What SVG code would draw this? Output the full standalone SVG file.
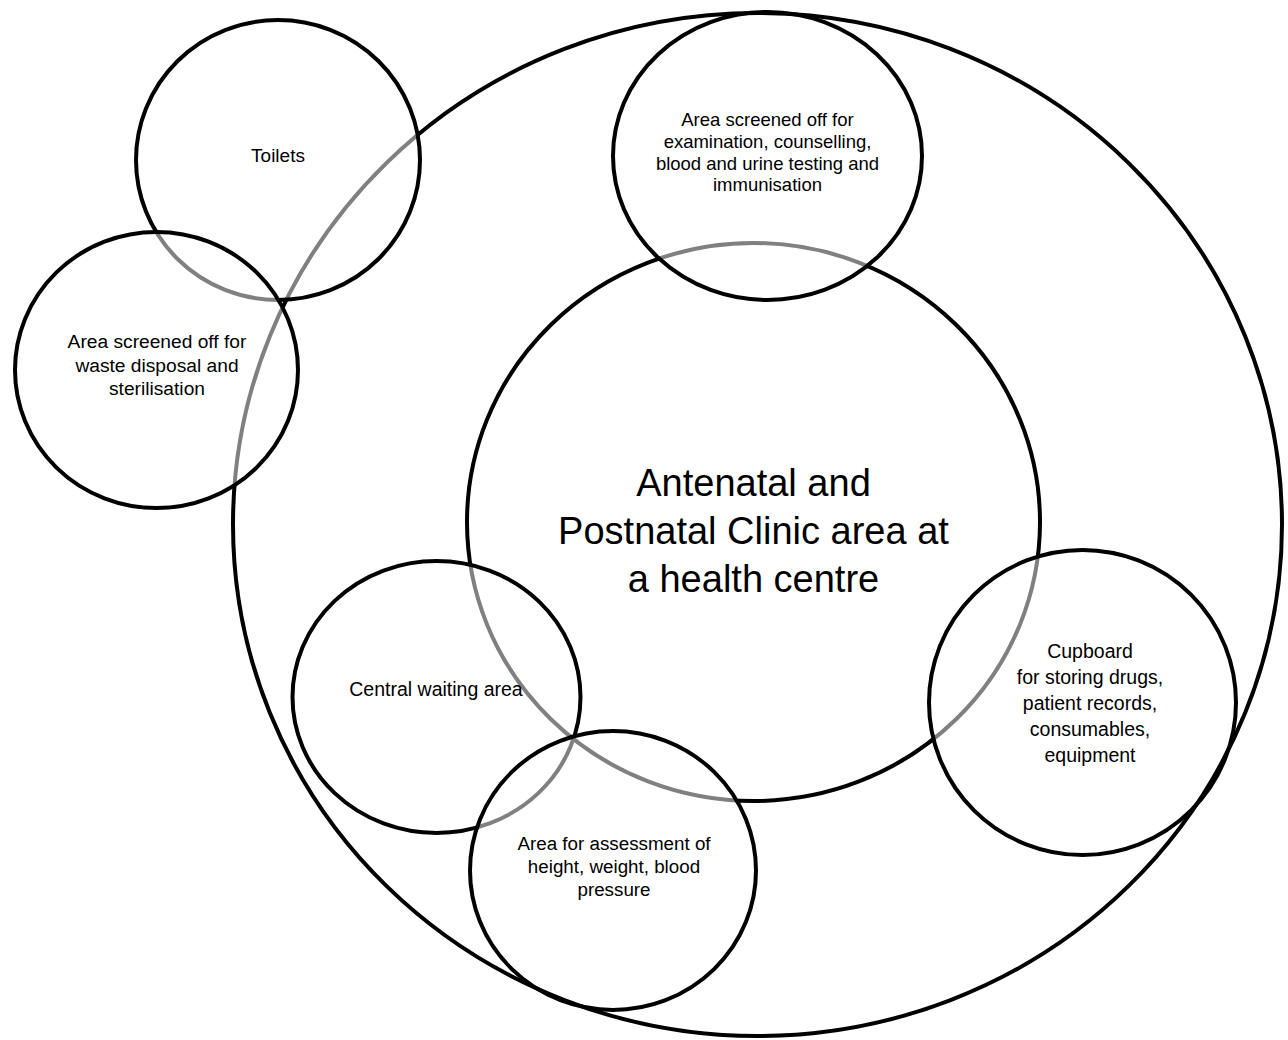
<svg xmlns="http://www.w3.org/2000/svg" width="1288" height="1040" viewBox="0 0 1288 1040">
<style>
.shape{stroke:#000;stroke-width:4;fill:#fff;fill-opacity:0.5}
.outer{stroke:#000;stroke-width:4;fill:none}
text{font-family:"Liberation Sans",Arial,sans-serif;fill:#000;text-anchor:middle}
</style>
<rect width="1288" height="1040" fill="#fff"/>
<g id="central">
<ellipse class="shape" cx="753.5" cy="522" rx="286.5" ry="279"/>
<text font-size="38"><tspan x="753.5" y="496">Antenatal and</tspan><tspan x="753.5" y="544">Postnatal Clinic area at</tspan><tspan x="753.5" y="592">a health centre</tspan></text>
</g>
<g id="examination">
<ellipse class="shape" cx="767.5" cy="156" rx="154.5" ry="144"/>
<text font-size="18.5"><tspan x="767.5" y="126">Area screened off for</tspan><tspan x="767.5" y="148">examination, counselling,</tspan><tspan x="767.5" y="169.5">blood and urine testing and</tspan><tspan x="767.5" y="191">immunisation</tspan></text>
</g>
<g id="waiting">
<ellipse class="shape" cx="436.5" cy="697" rx="144" ry="136"/>
<text font-size="19.5" x="436" y="696">Central waiting area</text>
</g>
<g id="assessment">
<ellipse class="shape" cx="613" cy="870.5" rx="143" ry="139.5"/>
<text font-size="18.8"><tspan x="614" y="850">Area for assessment of</tspan><tspan x="614" y="873">height, weight, blood</tspan><tspan x="614" y="896">pressure</tspan></text>
</g>
<g id="cupboard">
<ellipse class="shape" cx="1082.5" cy="702.5" rx="153.5" ry="152.5"/>
<text font-size="19.5"><tspan x="1090" y="658">Cupboard</tspan><tspan x="1090" y="684">for storing drugs,</tspan><tspan x="1090" y="710">patient records,</tspan><tspan x="1090" y="736">consumables,</tspan><tspan x="1090" y="762">equipment</tspan></text>
</g>
<g id="clinic-boundary">
<ellipse class="outer" cx="757.5" cy="524.5" rx="524.5" ry="511.5"/>
</g>
<g id="toilets">
<ellipse class="shape" cx="278" cy="160" rx="142" ry="140"/>
<text font-size="19" x="278" y="162">Toilets</text>
</g>
<g id="waste">
<ellipse class="shape" cx="156.5" cy="370" rx="141.5" ry="138"/>
<text font-size="19.2"><tspan x="157" y="348">Area screened off for</tspan><tspan x="157" y="371.5">waste disposal and</tspan><tspan x="157" y="395">sterilisation</tspan></text>
</g>
<g id="connectors"></g>
</svg>
